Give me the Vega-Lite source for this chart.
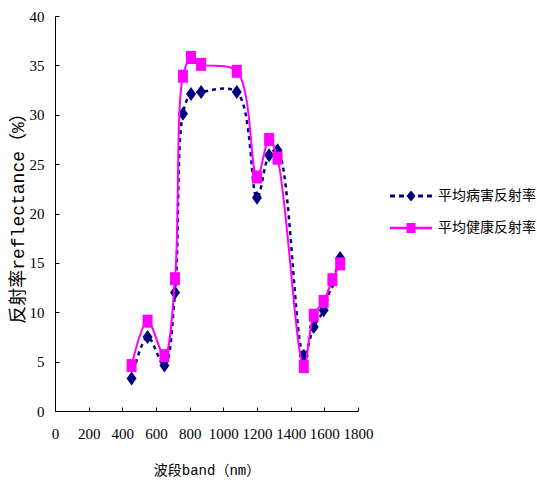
{
  "$schema": "https://vega.github.io/schema/vega-lite/v6.json",
  "autosize": {"type": "none"},
  "padding": {"left": 55, "top": 16, "right": 179, "bottom": 73},
  "width": 303,
  "height": 395,
  "background": "white",
  "config": {
    "view": {"stroke": null},
    "axis": {
      "grid": false,
      "domainColor": "#000000",
      "domainWidth": 1,
      "tickColor": "#000000",
      "tickSize": -4,
      "labelColor": "#000000",
      "labelFont": "Liberation Serif",
      "labelFontSize": 15,
      "titleColor": "#000000",
      "titleFont": "Liberation Mono, Noto Sans CJK SC",
      "titleFontWeight": "normal",
      "labelFlush": false,
      "labelOverlap": false
    }
  },
  "data": {
    "values": [
      {"band": 455, "r": 3.3, "series": "平均病害反射率"},
      {"band": 550, "r": 7.5, "series": "平均病害反射率"},
      {"band": 650, "r": 4.6, "series": "平均病害反射率"},
      {"band": 713, "r": 12.0, "series": "平均病害反射率"},
      {"band": 760, "r": 30.1, "series": "平均病害反射率"},
      {"band": 808, "r": 32.1, "series": "平均病害反射率"},
      {"band": 868, "r": 32.3, "series": "平均病害反射率"},
      {"band": 1080, "r": 32.3, "series": "平均病害反射率"},
      {"band": 1200, "r": 21.6, "series": "平均病害反射率"},
      {"band": 1272, "r": 25.9, "series": "平均病害反射率"},
      {"band": 1322, "r": 26.4, "series": "平均病害反射率"},
      {"band": 1478, "r": 5.6, "series": "平均病害反射率"},
      {"band": 1537, "r": 8.5, "series": "平均病害反射率"},
      {"band": 1596, "r": 10.2, "series": "平均病害反射率"},
      {"band": 1648, "r": 13.1, "series": "平均病害反射率"},
      {"band": 1694, "r": 15.5, "series": "平均病害反射率"},
      {"band": 455, "r": 4.6, "series": "平均健康反射率"},
      {"band": 550, "r": 9.1, "series": "平均健康反射率"},
      {"band": 650, "r": 5.6, "series": "平均健康反射率"},
      {"band": 713, "r": 13.4, "series": "平均健康反射率"},
      {"band": 760, "r": 33.9, "series": "平均健康反射率"},
      {"band": 808, "r": 35.8, "series": "平均健康反射率"},
      {"band": 868, "r": 35.1, "series": "平均健康反射率"},
      {"band": 1080, "r": 34.4, "series": "平均健康反射率"},
      {"band": 1200, "r": 23.7, "series": "平均健康反射率"},
      {"band": 1272, "r": 27.5, "series": "平均健康反射率"},
      {"band": 1322, "r": 25.6, "series": "平均健康反射率"},
      {"band": 1478, "r": 4.5, "series": "平均健康反射率"},
      {"band": 1537, "r": 9.7, "series": "平均健康反射率"},
      {"band": 1596, "r": 11.1, "series": "平均健康反射率"},
      {"band": 1648, "r": 13.3, "series": "平均健康反射率"},
      {"band": 1694, "r": 14.9, "series": "平均健康反射率"}
    ]
  },
  "encoding": {
    "x": {
      "field": "band", "type": "quantitative",
      "scale": {"domain": [0, 1800], "nice": false},
      "axis": {
        "values": [0, 200, 400, 600, 800, 1000, 1200, 1400, 1600, 1800],
        "format": "d",
        "title": "波段band（nm）",
        "titleFontSize": 14,
        "labelPadding": 19,
        "titlePadding": 22
      }
    },
    "y": {
      "field": "r", "type": "quantitative",
      "scale": {"domain": [0, 40], "nice": false},
      "axis": {
        "values": [0, 5, 10, 15, 20, 25, 30, 35, 40],
        "title": "反射率reflectance（%）",
        "titleFontSize": 18,
        "labelPadding": 15,
        "titlePadding": 2
      }
    },
    "color": {
      "field": "series", "type": "nominal",
      "scale": {"domain": ["平均病害反射率", "平均健康反射率"], "range": ["#000080", "#FF00FF"]},
      "legend": {
        "title": null,
        "orient": "none",
        "legendX": 346,
        "legendY": 170,
        "padding": 0,
        "symbolSize": 400,
        "symbolStrokeWidth": 0,
        "labelOffset": 17,
        "labelFont": "Noto Sans CJK SC",
        "labelFontSize": 14,
        "labelColor": "#000000",
        "rowPadding": 15,
        "encode": {
          "symbols": {
            "update": {
              "shape": {"signal": "datum.value === '平均病害反射率' ? 'M-2.1,-0.15H-1.6V0.15H-2.1Z M-1.2,-0.15H-0.7V0.15H-1.2Z M0,-0.55L0.45,0L0,0.55L-0.45,0Z M0.7,-0.15H1.2V0.15H0.7Z M1.6,-0.15H2.1V0.15H1.6Z' : 'M-2.1,-0.13H2.1V0.13H-2.1Z M-0.45,-0.5H0.45V0.5H-0.45Z'"},
              "fill": {"signal": "datum.value === '平均病害反射率' ? '#000080' : '#FF00FF'"},
              "stroke": {"value": "transparent"},
              "strokeWidth": {"value": 0},
              "strokeDash": {"value": [1, 0]},
              "opacity": {"value": 1},
              "size": {"value": 400}
            }
          }
        }
      }
    }
  },
  "layer": [
    {
      "transform": [{"filter": "datum.series === '平均病害反射率'"}],
      "mark": {"type": "line", "interpolate": "catmull-rom", "strokeDash": [4, 4], "strokeWidth": 2.5}
    },
    {
      "transform": [{"filter": "datum.series === '平均病害反射率'"}],
      "mark": {"type": "point", "filled": true, "opacity": 1, "size": 400, "shape": "M0,-0.7L0.5,0L0,0.7L-0.5,0Z"}
    },
    {
      "transform": [{"filter": "datum.series === '平均健康反射率'"}],
      "mark": {"type": "line", "interpolate": "catmull-rom", "strokeWidth": 2}
    },
    {
      "transform": [{"filter": "datum.series === '平均健康反射率'"}],
      "mark": {"type": "point", "filled": true, "opacity": 1, "size": 400, "shape": "M-0.5,-0.65H0.5V0.65H-0.5Z"}
    }
  ]
}
